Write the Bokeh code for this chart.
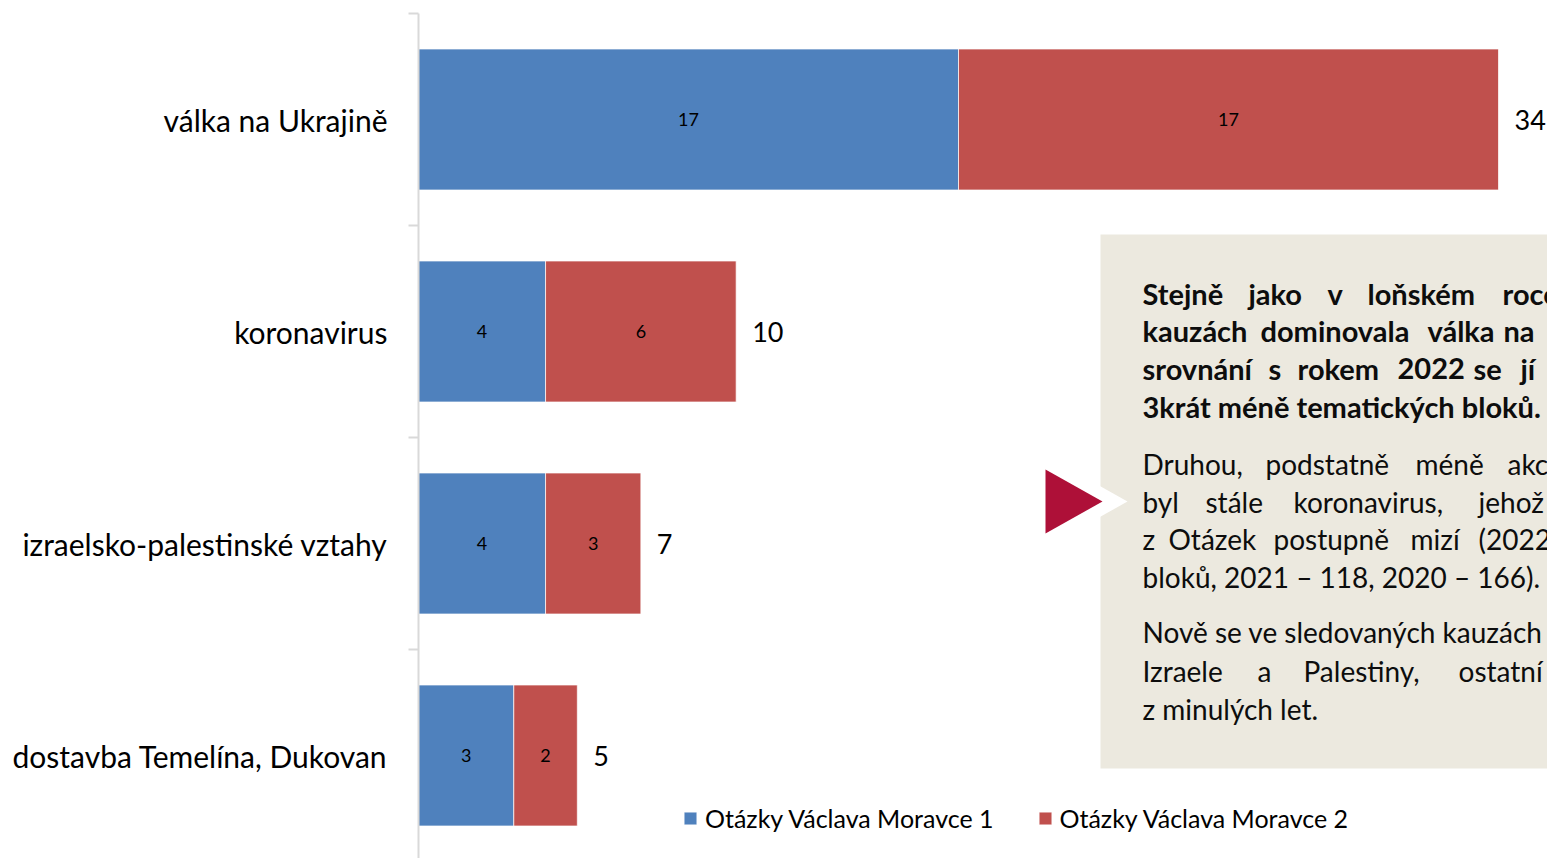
from bokeh.plotting import figure
from bokeh.models import Range1d, FixedTicker, Legend, LegendItem, ColumnDataSource
from bokeh.core.properties import value
from bokeh.embed import file_html
from bokeh.resources import INLINE

# ---- data ----
categories = ["válka na Ukrajině", "koronavirus", "izraelsko-palestinské vztahy", "dostavba Temelína, Dukovan"]
series1 = [17, 4, 4, 3]
series2 = [17, 6, 3, 2]
series_names = ["Otázky Václava Moravce 1", "Otázky Václava Moravce 2"]
colors = ["#4F81BD", "#C0504D"]

FONT = "Lato"
W, H = 1547, 858
FRAME_L, FRAME_T = 418, 13         # frame position inside canvas
PX_PER_UNIT = 540 / 17.0           # horizontal scale
ROW_PX = 212.0                     # category band height

x_end = (W - FRAME_L) / PX_PER_UNIT
y_end = (H - FRAME_T) / ROW_PX

# canvas pixel -> data helpers (for the comment box only)
def fx(px):
    return (px - FRAME_L) / PX_PER_UNIT

def fy(py):
    return (py - FRAME_T) / ROW_PX

ypos = [i + 0.5 for i in range(len(categories))]
totals = [a + b for a, b in zip(series1, series2)]

src = ColumnDataSource(dict(
    y=ypos,
    s1=series1,
    s2=series2,
    mid1=[a / 2 for a in series1],
    mid2=[a + b / 2 for a, b in zip(series1, series2)],
    t1=[str(a) for a in series1],
    t2=[str(b) for b in series2],
    total=totals,
    ttot=[str(t) for t in totals],
))

p = figure(width=W, height=H, output_backend="svg", toolbar_location=None,
           x_range=Range1d(0, x_end), y_range=Range1d(y_end, 0),
           min_border_left=FRAME_L, min_border_top=FRAME_T,
           min_border_right=0, min_border_bottom=0,
           outline_line_color=None, background_fill_color="white",
           border_fill_color="white")
p.xaxis.visible = False
p.xgrid.visible = False
p.ygrid.visible = False

yax = p.yaxis[0]
yax.ticker = FixedTicker(ticks=ypos, minor_ticks=[0, 1, 2, 3, 4])
yax.major_label_overrides = {y: c for y, c in zip(ypos, categories)}
yax.major_tick_line_color = None
yax.major_tick_out = 0
yax.major_tick_in = 0
yax.minor_tick_line_color = "#D9D9D9"
yax.minor_tick_line_width = 2
yax.minor_tick_out = 10
yax.minor_tick_in = 0
yax.axis_line_color = "#D9D9D9"
yax.axis_line_width = 2
yax.major_label_standoff = 21
yax.major_label_text_font = FONT
yax.major_label_text_font_size = "30px"
yax.major_label_text_color = "#000000"

rs = p.hbar_stack(["s1", "s2"], y="y", height=141 / ROW_PX, color=colors,
                  line_color="white", line_width=1, line_alpha=0.7, source=src)

p.text(x="mid1", y="y", text="t1", source=src, text_align="center", text_baseline="middle",
       text_font=value(FONT), text_font_size="18px", text_color="#000000")
p.text(x="mid2", y="y", text="t2", source=src, text_align="center", text_baseline="middle",
       text_font=value(FONT), text_font_size="18px", text_color="#000000")
p.text(x="total", y="y", text="ttot", x_offset=16, source=src, text_align="left",
       text_baseline="middle", text_font=value(FONT), text_font_size="27px", text_color="#000000")

# ---- comment box ----
p.quad(left=fx(1100), right=fx(1700), top=fy(234), bottom=fy(768),
       fill_color="#ECE9DF", line_color=None)
p.patch([fx(1045), fx(1127), fx(1045)], [fy(455), fy(501), fy(547)],
        fill_color="white", line_color=None)
p.patch([fx(1045), fx(1102), fx(1045)], [fy(469), fy(501), fy(533)],
        fill_color="#AE1038", line_color=None)

bold_lines = [
    (293, [("Stejně", 1142), ("jako", 1248), ("v", 1327), ("loňském", 1367), ("roce,", 1502)]),
    (330, [("kauzách", 1142), ("dominovala", 1260), ("válka", 1427), ("na", 1503), ("Ukrajině.", 1560)]),
    (368, [("srovnání", 1142), ("s", 1268), ("rokem", 1297), ("2022", 1397), ("se", 1473), ("jí", 1520), ("věnovalo", 1560)]),
    (406, [("3krát méně tematických bloků.", 1142)]),
]
normal_lines = [
    (463, [("Druhou,", 1142), ("podstatně", 1265), ("méně", 1415), ("akcentovanou", 1507)]),
    (501, [("byl", 1142), ("stále", 1205), ("koronavirus,", 1293), ("jehož", 1478)]),
    (538, [("z", 1142), ("Otázek", 1168), ("postupně", 1273), ("mizí", 1410), ("(2022", 1478)]),
    (576, [("bloků, 2021 – 118, 2020 – 166).", 1142)]),
    (631, [("Nově se ve sledovaných kauzách objevil", 1142)]),
    (670, [("Izraele", 1142), ("a", 1257), ("Palestiny,", 1303), ("ostatní", 1458)]),
    (708, [("z minulých let.", 1142)]),
]

def words_source(lines):
    xs, ys, ts = [], [], []
    for py, words in lines:
        for w, px in words:
            xs.append(fx(px)); ys.append(fy(py)); ts.append(w)
    return ColumnDataSource(dict(x=xs, y=ys, t=ts))

p.text(x="x", y="y", text="t", source=words_source(bold_lines), text_align="left",
       text_baseline="middle", text_font=value(FONT), text_font_style="bold",
       text_font_size="29px", text_color="#0D0D0D")
p.text(x="x", y="y", text="t", source=words_source(normal_lines), text_align="left",
       text_baseline="middle", text_font=value(FONT), text_font_size="28px",
       text_color="#0D0D0D")

# ---- legend ----
legend = Legend(items=[LegendItem(label=series_names[0], renderers=[rs[0]]),
                       LegendItem(label=series_names[1], renderers=[rs[1]])],
                orientation="horizontal", location=(264, 25),
                glyph_width=16, glyph_height=16, label_standoff=7, spacing=43,
                padding=0, margin=0, border_line_color=None, background_fill_alpha=0,
                label_text_font=FONT, label_text_font_size="25px",
                label_text_color="#000000")
p.add_layout(legend)

open("out.html", "w").write(file_html(p, INLINE))
